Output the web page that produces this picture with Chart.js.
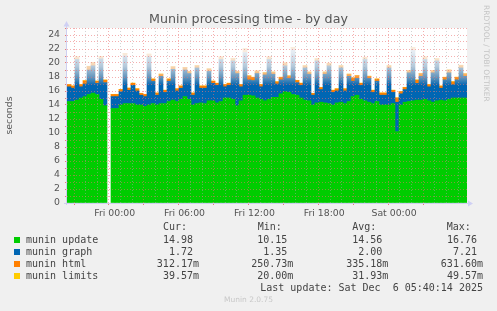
<!DOCTYPE html>
<html>
<head>
<meta charset="utf-8">
<script src="https://cdn.jsdelivr.net/npm/chart.js@4/dist/chart.umd.min.js"></script>
<style>
  html, body { margin: 0; padding: 0; background: #F0F0F0; }
  #wrap { position: relative; width: 497px; height: 311px; overflow: hidden; font-family: 'DejaVu Sans', sans-serif; }
  #chartBox { position: absolute; left: 0; top: 0; width: 497px; height: 311px; }
  #title { position: absolute; left: 0; top: 11px; width: 497px; text-align: center; font-size: 12.67px; line-height: 16px; color: #555; }
  #vendor { position: absolute; left: 482px; top: 5px; writing-mode: vertical-rl; font-size: 7.5px; color: #c4c4c4; }
  .mono { position: absolute; font-family: 'DejaVu Sans Mono', monospace; font-size: 10px; line-height: 12px; color: #444; white-space: pre; }
  .box { position: absolute; width: 6px; height: 6px; }
  #version { position: absolute; left: 0; width: 497px; top: 295px; text-align: center; font-size: 7.5px; color: #c8c8c8; }
</style>
</head>
<body>
<div id="wrap">
  <div id="chartBox"><canvas id="chart"></canvas></div>
  <div id="title">Munin processing time - by day</div>
  <div id="vendor">RRDTOOL / TOBI OETIKER</div>
  <div id="legend"></div>
  <div id="version">Munin 2.0.75</div>
</div>
<script>
// one column = 20 minutes, first column starts Thu ~20:25 (hours relative to Fri 00:00)
const startHour = -3.583;
const stepHours = 1 / 3;
const endHour = 29.75;

const tickHours = [0, 6, 12, 18, 24];
const tickLabels = ['Fri 00:00', 'Fri 06:00', 'Fri 12:00', 'Fri 18:00', 'Sat 00:00'];

const seriesNames = ['munin update', 'munin graph', 'munin html', 'munin limits'];
const seriesColors = ['#00CC00', '#0066B3', '#FF8000', '#FFCC00'];

// seconds (null = no data)
const muninUpdate = [
  14.5, 14.5, 14.7, 15.0, 15.2, 15.5, 15.7, 15.5, 14.8, 13.9,
  null, 13.5, 13.5, 14.0, 14.2, 14.2, 14.2, 14.0, 14.0, 13.8,
  14.0, 14.2, 14.0, 14.2, 14.2, 14.5, 14.7, 14.5, 14.8, 15.2,
  14.8, 14.0, 14.2, 14.3, 14.2, 14.6, 14.6, 14.3, 14.5, 15.0,
  15.0, 14.8, 13.9, 14.6, 15.4, 15.4, 15.3, 15.0, 14.8, 14.6,
  14.8, 15.1, 15.1, 15.6, 15.9, 15.8, 15.5, 15.4, 15.0, 14.7,
  14.6, 14.0, 14.3, 14.4, 14.3, 14.2, 14.0, 14.3, 14.4, 14.2,
  14.5, 15.2, 15.4, 14.8, 14.6, 14.4, 14.2, 14.5, 14.0, 14.0,
  14.0, 14.2, 10.2, 14.0, 14.4, 14.5, 14.6, 14.7, 14.7, 14.8,
  14.6, 14.4, 14.6, 14.7, 14.6, 14.8, 15.0, 15.0, 15.0, 15.0
];
const muninGraph = [
  2.1, 1.9, 5.8, 1.6, 1.8, 3.5, 3.9, 1.6, 5.8, 3.3,
  null, 1.7, 1.7, 1.9, 6.8, 1.9, 2.6, 2.0, 1.4, 1.4,
  6.9, 3.2, 1.4, 3.9, 1.6, 2.9, 4.4, 1.5, 1.6, 3.8,
  3.7, 1.4, 5.1, 2.1, 2.2, 4.2, 2.5, 2.5, 6.0, 1.6,
  1.8, 5.5, 4.6, 2.0, 6.1, 2.2, 2.2, 3.5, 1.8, 3.7,
  5.7, 3.3, 1.9, 2.0, 3.7, 2.0, 6.4, 1.8, 1.8, 4.6,
  3.8, 1.4, 6.0, 1.8, 4.1, 5.4, 1.8, 1.7, 4.9, 1.8,
  3.6, 2.2, 2.4, 2.0, 5.9, 3.4, 1.6, 2.9, 1.4, 1.4,
  5.3, 1.6, 4.2, 1.6, 1.8, 4.1, 7.2, 2.4, 3.4, 5.7,
  2.0, 4.2, 5.7, 1.7, 3.0, 3.8, 1.9, 2.6, 4.3, 3.1
];
const muninHtml = [
  0.30, 0.30, 0.35, 0.30, 0.45, 0.50, 0.45, 0.30, 0.30, 0.35,
  null, 0.30, 0.30, 0.30, 0.35, 0.30, 0.30, 0.30, 0.25, 0.30,
  0.35, 0.30, 0.30, 0.30, 0.30, 0.30, 0.35, 0.30, 0.30, 0.35,
  0.30, 0.30, 0.30, 0.30, 0.30, 0.35, 0.30, 0.30, 0.35, 0.30,
  0.30, 0.35, 0.30, 0.30, 0.50, 0.55, 0.45, 0.35, 0.30, 0.30,
  0.35, 0.30, 0.30, 0.35, 0.40, 0.35, 0.30, 0.30, 0.30, 0.30,
  0.30, 0.25, 0.30, 0.30, 0.30, 0.35, 0.30, 0.30, 0.30, 0.30,
  0.30, 0.45, 0.40, 0.30, 0.30, 0.30, 0.30, 0.30, 0.30, 0.30,
  0.30, 0.30, 0.60, 0.30, 0.30, 0.30, 0.40, 0.45, 0.40, 0.35,
  0.30, 0.30, 0.30, 0.30, 0.35, 0.40, 0.40, 0.35, 0.35, 0.35
];
const muninLimits = [
  0.03, 0.03, 0.04, 0.03, 0.03, 0.04, 0.03, 0.03, 0.03, 0.03,
  null, 0.02, 0.03, 0.03, 0.03, 0.03, 0.04, 0.03, 0.03, 0.03,
  0.03, 0.03, 0.03, 0.04, 0.03, 0.03, 0.03, 0.03, 0.03, 0.03,
  0.03, 0.03, 0.04, 0.03, 0.03, 0.03, 0.03, 0.03, 0.03, 0.03,
  0.03, 0.03, 0.03, 0.03, 0.05, 0.04, 0.03, 0.03, 0.03, 0.03,
  0.03, 0.03, 0.03, 0.03, 0.03, 0.03, 0.04, 0.03, 0.03, 0.03,
  0.03, 0.03, 0.03, 0.03, 0.03, 0.03, 0.03, 0.03, 0.03, 0.03,
  0.03, 0.04, 0.03, 0.03, 0.03, 0.03, 0.03, 0.03, 0.03, 0.03,
  0.03, 0.03, 0.04, 0.03, 0.03, 0.03, 0.03, 0.04, 0.03, 0.03,
  0.03, 0.03, 0.03, 0.03, 0.03, 0.03, 0.04, 0.04, 0.04, 0.04
];

// legend statistics as printed by munin
const curVals = ['14.98 ', '1.72 ', '312.17m', '39.57m'];
const minVals = ['10.15 ', '1.35 ', '250.73m', '20.00m'];
const avgVals = ['14.56 ', '2.00 ', '335.18m', '31.93m'];
const maxVals = ['16.76 ', '7.21 ', '631.60m', '49.57m'];
const lastUpdate = 'Last update: Sat Dec  6 05:40:14 2025';

const columnLabels = muninUpdate.map((_, i) => (startHour + i * stepHours).toFixed(2));

const FONT = "'DejaVu Sans', sans-serif";
const MAJOR = 'rgba(235,110,110,0.55)';
const MINOR = 'rgba(170,170,170,0.5)';

// fade stops (value, colour): thin spikes look washed out in rrdtool
const graphFade = [[0, '#0066B3'], [16.8, '#0066B3'], [17.8, '#5b8fb9'], [19.5, '#b3c8da'], [21.5, '#e4ebf2'], [25, '#f8f9fb']];
const htmlFade = [[0, '#FF8000'], [17.6, '#FF8000'], [18.8, '#f6c99a'], [21, '#f8e8d8'], [25, '#fbf6f1']];
const limitsFade = [[0, '#FFCC00'], [17.8, '#FFCC00'], [19.2, '#f6e4b0'], [25, '#fbf8ee']];

function makeGradient(chart, stops) {
    const a = chart.chartArea;
    const y = chart.scales.y;
    const g = chart.ctx.createLinearGradient(0, a.bottom, 0, a.top);
    stops.forEach(([v, c]) => g.addColorStop(v / y.max, c));
    return g;
}

const framePlugin = {
    id: 'frame',
    afterLayout(chart) {
        // gradients need the final chart area
        const ds = chart.data.datasets;
        ds[1].backgroundColor = makeGradient(chart, graphFade);
        ds[2].backgroundColor = makeGradient(chart, htmlFade);
        ds[3].backgroundColor = makeGradient(chart, limitsFade);
    },
    beforeDraw(chart) {
        const {ctx, chartArea: a} = chart;
        ctx.save();
        ctx.fillStyle = '#ffffff';
        ctx.fillRect(a.left, a.top, a.right - a.left, a.bottom - a.top);
        ctx.restore();
    },
    afterDraw(chart) {
        const {ctx, chartArea: a} = chart;
        ctx.save();
        ctx.strokeStyle = '#cfcff0';
        ctx.fillStyle = '#cfd0f4';
        ctx.lineWidth = 1;
        ctx.beginPath();
        ctx.moveTo(a.left - 0.5, a.bottom + 2);
        ctx.lineTo(a.left - 0.5, a.top - 5);
        ctx.moveTo(a.left - 3, a.bottom + 0.5);
        ctx.lineTo(a.right + 2, a.bottom + 0.5);
        ctx.stroke();
        // arrow heads
        ctx.beginPath();
        ctx.moveTo(a.left - 0.5, a.top - 7);
        ctx.lineTo(a.left - 3.5, a.top - 1.5);
        ctx.lineTo(a.left + 2.5, a.top - 1.5);
        ctx.closePath();
        ctx.fill();
        ctx.beginPath();
        ctx.moveTo(a.right + 6, a.bottom + 0.5);
        ctx.lineTo(a.right + 1, a.bottom - 2.5);
        ctx.lineTo(a.right + 1, a.bottom + 3.5);
        ctx.closePath();
        ctx.fill();
        ctx.restore();
    }
};

const barOpts = {borderWidth: 0, barPercentage: 1, categoryPercentage: 1, stack: 's'};

new Chart(document.getElementById('chart'), {
    type: 'bar',
    data: {
        labels: columnLabels,
        datasets: [
            {...barOpts, label: seriesNames[0], data: muninUpdate, backgroundColor: seriesColors[0]},
            {...barOpts, label: seriesNames[1], data: muninGraph, backgroundColor: seriesColors[1]},
            {...barOpts, label: seriesNames[2], data: muninHtml, backgroundColor: seriesColors[2]},
            {...barOpts, label: seriesNames[3], data: muninLimits, backgroundColor: seriesColors[3]}
        ]
    },
    options: {
        responsive: true,
        maintainAspectRatio: false,
        animation: false,
        events: [],
        layout: {padding: {left: 0, top: 28, right: 30, bottom: 88}},
        plugins: {legend: {display: false}, tooltip: {enabled: false}},
        scales: {
            x: {display: false, stacked: true},
            xt: {
                type: 'linear',
                position: 'bottom',
                min: startHour,
                max: endHour,
                afterFit: (s) => { s.height = 20; },
                border: {display: false, dash: [1, 2]},
                grid: {
                    z: 1,
                    tickLength: 2,
                    color: (c) => (c.tick && c.tick.value % 3 === 0 ? MAJOR : MINOR),
                    tickColor: (c) => (c.tick && c.tick.value % 3 === 0 ? 'rgba(230,90,90,0.8)' : 'rgba(0,0,0,0)')
                },
                ticks: {
                    stepSize: 1,
                    maxTicksLimit: 100,
                    includeBounds: false,
                    autoSkip: false,
                    maxRotation: 0,
                    padding: 3,
                    color: '#555',
                    font: {family: FONT, size: 9.33},
                    callback: (v) => {
                        const k = tickHours.indexOf(v);
                        return k >= 0 ? tickLabels[k] : '';
                    }
                }
            },
            y: {
                stacked: true,
                min: 0,
                max: 25,
                afterFit: (s) => { s.width = 67; },
                border: {display: false, dash: [1, 2]},
                grid: {z: 1, tickLength: 2, color: MAJOR, tickColor: 'rgba(230,90,90,0.8)'},
                ticks: {
                    stepSize: 1,
                    maxTicksLimit: 100,
                    autoSkip: false,
                    padding: 5,
                    color: '#555',
                    font: {family: FONT, size: 9.33},
                    callback: (v) => (v % 2 === 0 && v < 25 ? String(v) : '')
                },
                title: {display: true, text: 'seconds', color: '#555', padding: {top: 4, bottom: 0}, font: {family: FONT, size: 9.33}}
            }
        }
    },
    plugins: [framePlugin]
});

// legend table below the plot
const legend = document.getElementById('legend');
function put(cls, text, style) {
    const el = document.createElement('div');
    el.className = cls;
    el.textContent = text;
    Object.assign(el.style, style);
    legend.appendChild(el);
}
const headLeft = [163, 257.7, 352.3, 446.7];
const colRight = [199, 293.3, 388.3, 483];
['Cur:', 'Min:', 'Avg:', 'Max:'].forEach((h, k) => put('mono', h, {left: headLeft[k] + 'px', top: '221px'}));
seriesNames.forEach((name, i) => {
    const top = 233.5 + i * 12;
    put('box', '', {left: '14px', top: (top + 3.2) + 'px', background: seriesColors[i]});
    put('mono', name, {left: '26px', top: top + 'px'});
    [curVals, minVals, avgVals, maxVals].forEach((col, k) => {
        put('mono', col[i], {right: (497 - colRight[k]) + 'px', top: top + 'px'});
    });
});
put('mono', lastUpdate, {right: (497 - 483) + 'px', top: '281.5px'});
</script>
</body>
</html>
